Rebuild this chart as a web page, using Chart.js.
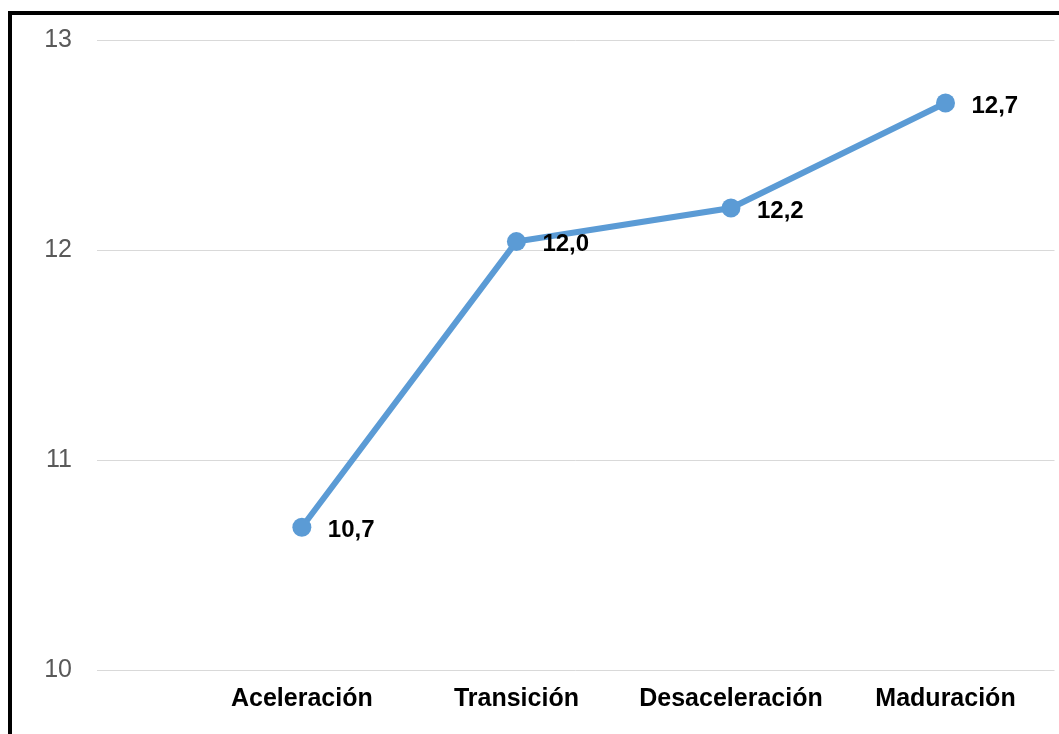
<!DOCTYPE html>
<html>
<head>
<meta charset="utf-8">
<script src="https://cdn.jsdelivr.net/npm/chart.js@4"></script>
<style>
  html, body { margin: 0; padding: 0; background: #fff; overflow: hidden; }
  #frame { position: absolute; left: 8px; top: 11px; width: 1051px; height: 723px; overflow: hidden;
           border-left: 4px solid #000; border-top: 4px solid #000; box-sizing: border-box; }
  #wrap { position: absolute; left: 0; top: 0; width: 1052px; height: 719px; }
</style>
</head>
<body>
<div id="frame"><div id="wrap"><canvas id="c" width="1052" height="719"></canvas></div></div>
<script>
const categories = ['Aceleración', 'Transición', 'Desaceleración', 'Maduración'];
const values = [10.68, 12.04, 12.2, 12.7];
const valueLabels = ['10,7', '12,0', '12,2', '12,7'];
const yTicks = [10, 11, 12, 13];

const points = values.map((v, i) => ({ x: i + 1, y: v }));

const dataLabelPlugin = {
  id: 'dataLabels',
  afterDatasetsDraw(chart) {
    const ctx = chart.ctx;
    const meta = chart.getDatasetMeta(0);
    ctx.save();
    ctx.font = 'bold 24px "Liberation Sans", Arial, sans-serif';
    ctx.fillStyle = '#000';
    ctx.textAlign = 'left';
    ctx.textBaseline = 'middle';
    meta.data.forEach((pt, i) => {
      ctx.fillText(valueLabels[i], pt.x + 26, pt.y + 3);
    });
    ctx.restore();
  }
};

function zeroPad(scale) {
  scale.paddingTop = 0; scale.paddingBottom = 0;
  scale.paddingLeft = 0; scale.paddingRight = 0;
}

new Chart(document.getElementById('c'), {
  type: 'line',
  data: {
    datasets: [{
      data: points,
      borderColor: '#5B9BD5',
      backgroundColor: '#5B9BD5',
      borderWidth: 6,
      pointRadius: 9.5,
      pointBorderWidth: 0,
      pointHoverRadius: 9.5,
      tension: 0,
      fill: false,
      clip: false
    }]
  },
  options: {
    responsive: false,
    animation: false,
    events: [],
    layout: { padding: { top: 25, right: 0, left: 0, bottom: 0 } },
    plugins: { legend: { display: false }, tooltip: { enabled: false } },
    scales: {
      x: {
        type: 'linear',
        min: 0.0452,
        max: 4.508,
        afterBuildTicks(scale) { scale.ticks = categories.map((c, i) => ({ value: i + 1 })); },
        afterFit(scale) { scale.height = 64; zeroPad(scale); },
        grid: { display: false, drawTicks: false },
        border: { display: false },
        ticks: {
          padding: 14,
          autoSkip: false,
          maxRotation: 0,
          color: '#000',
          font: { family: '"Liberation Sans", Arial, sans-serif', size: 25, weight: 'bold' },
          callback(v) { return categories[Math.round(v) - 1] || ''; }
        }
      },
      y: {
        min: 10,
        max: 13,
        afterBuildTicks(scale) { scale.ticks = yTicks.map(v => ({ value: v })); },
        afterFit(scale) { scale.width = 85; zeroPad(scale); },
        grid: { color: '#d9d9d9', lineWidth: 1, drawTicks: false },
        border: { display: false },
        ticks: {
          padding: 25,
          color: '#595959',
          font: { family: '"Liberation Sans", Arial, sans-serif', size: 25 },
          callback(v) { return String(v); }
        }
      }
    }
  },
  plugins: [dataLabelPlugin]
});
</script>
</body>
</html>
